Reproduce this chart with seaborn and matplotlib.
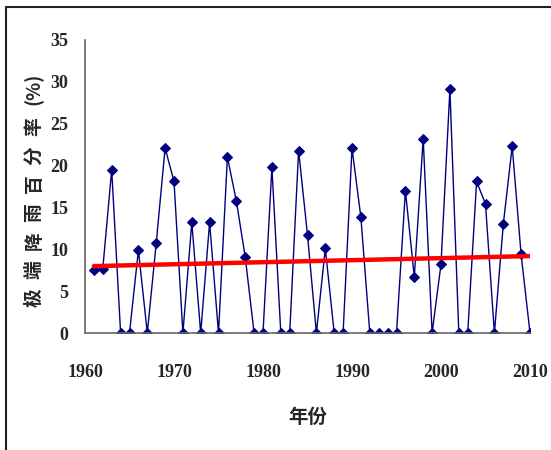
import numpy as np
import pandas as pd
import matplotlib
matplotlib.use("Agg")
import matplotlib.pyplot as plt
from matplotlib.lines import Line2D
import seaborn as sns

# data
years = list(range(1961, 2011))
pct = [7.5, 7.7, 19.5, 0, 0, 9.9, 0, 10.7, 22.1, 18.1,
       0, 13.2, 0, 13.2, 0, 21.0, 15.8, 9.1, 0, 0,
       19.8, 0, 0, 21.8, 11.7, 0, 10.1, 0, 0, 22.1,
       13.8, 0, 0, 0, 0, 17.0, 6.7, 23.2, 0, 8.2,
       29.1, 0, 0, 18.1, 15.4, 0, 13.0, 22.3, 9.4, 0]
x_ticks = [1960, 1970, 1980, 1990, 2000, 2010]
y_ticks = [0, 5, 10, 15, 20, 25, 30, 35]
ylabel_chars = ["极", "端", "降", "雨", "百", "分", "率", "(%)"]

df = pd.DataFrame({"year": years, "pct": pct})

sns.set_style("white")
plt.rcParams["font.family"] = ["Liberation Serif", "Noto Sans CJK SC"]

W, H = 551, 450
fig = plt.figure(figsize=(W / 100, H / 100), dpi=100)
ax = fig.add_axes([85 / W, 117 / H, 445 / W, 293 / H])

sns.lineplot(x="year", y="pct", data=df, ax=ax, color="#000080", linewidth=1,
             marker="D", markersize=5.5, markeredgecolor="#000080")
sns.regplot(x="year", y="pct", data=df, ax=ax, scatter=False, ci=None,
            line_kws={"color": "red", "linewidth": 3.2})

ax.set_xlim(1960, 2010)
ax.set_ylim(0, 35)
ax.set_xticks(x_ticks)
ax.set_yticks(y_ticks)
ax.tick_params(direction="in", length=5, width=1, color="#555555", pad=12)
ax.tick_params(axis="x", pad=22)
for lab in ax.get_xticklabels() + ax.get_yticklabels():
    lab.set_fontweight("bold")
    lab.set_fontsize(13)
    lab.set_family("Liberation Serif")

sns.despine(ax=ax)
for s in ["left", "bottom"]:
    ax.spines[s].set_color("#666666")
    ax.spines[s].set_linewidth(1.2)

ax.set_xlabel("年份", family="Noto Sans CJK SC", fontweight="bold", fontsize=14, labelpad=20)
ax.set_ylabel("")

# y label: one rotated character after another, bottom to top
y_pix = 298
for ch in ylabel_chars:
    if ch == "(%)":
        y_pix -= 10
    fig.text(34 / W, 1 - y_pix / H, ch, rotation=90, ha="center", va="center",
             family="Noto Sans CJK SC", fontweight="bold", fontsize=13.5)
    y_pix -= 28.5

# frame lines on the left and top of the picture
fig.add_artist(Line2D([5.5 / W, 5.5 / W], [0, 1 - 6.5 / H], color="#222222", lw=1.5))
fig.add_artist(Line2D([5.5 / W, 1], [1 - 6.5 / H, 1 - 6.5 / H], color="#222222", lw=1.5))

fig.savefig("out.png", dpi=100)
